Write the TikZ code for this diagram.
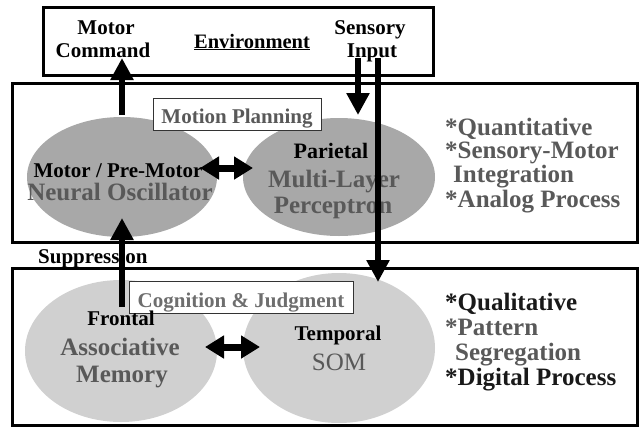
\documentclass[tikz,border=0pt]{standalone}
\usepackage{fontspec}
\setmainfont{Liberation Serif}
\usetikzlibrary{arrows.meta,shapes.geometric}
\definecolor{midgray}{HTML}{A8A8A8}
\definecolor{lightgray}{HTML}{D0D0D0}
\definecolor{txtgray}{HTML}{595959}
\definecolor{txtgrayL}{HTML}{6E6E6E}
\begin{document}
\begin{tikzpicture}[x=1pt,y=-1pt,
  framebox/.style={draw=black, line width=3pt},
  titlebox/.style={draw=black!80, line width=0.8pt, fill=white},
  blob/.style={ellipse, inner sep=0pt},
  lbl/.style={anchor=base, inner sep=0pt, font=\fontsize{21}{21}\selectfont\bfseries},
  biglbl/.style={anchor=base, inner sep=0pt, text=txtgray, font=\fontsize{25}{25}\selectfont\bfseries},
  toplbl/.style={anchor=base, inner sep=0pt, font=\fontsize{21}{21}\selectfont\bfseries},
  listlbl/.style={anchor=base west, inner sep=0pt, font=\fontsize{25}{25}\selectfont\bfseries},
  bigarrow/.style={line width=6pt, -{Triangle[width=22pt,length=22pt]}},
  dblarrow/.style={line width=7pt, {Triangle[width=22pt,length=19pt]}-{Triangle[width=22pt,length=19pt]}}
]
\useasboundingbox (0,0) rectangle (639,426);

% frames
\draw[framebox] (43,7) rectangle (433,75);
\draw[framebox] (12,83) rectangle (637,242);
\draw[framebox] (12,268) rectangle (637,425);

% ellipses
\node[blob, fill=midgray, minimum width=190pt, minimum height=120pt] (osc) at (122,177) {};
\node[blob, fill=midgray, minimum width=192pt, minimum height=118pt] (mlp) at (339,177) {};
\node[blob, fill=lightgray, minimum width=192pt, minimum height=142pt] (am) at (121,351) {};
\node[blob, fill=lightgray, minimum width=192pt, minimum height=150pt] (som) at (339,348) {};

% title boxes
\node[titlebox, minimum width=168pt, minimum height=32pt, inner sep=0pt] (mpbox) at (237,114) {};
\node[lbl, text=txtgray] (mp) at (237,123) {Motion Planning};
\node[titlebox, minimum width=224pt, minimum height=32pt, inner sep=0pt] (cjbox) at (241,297) {};
\node[lbl, text=txtgrayL] (cj) at (241,307) {Cognition \& Judgment};

% top texts
\node[toplbl] (mc1) at (106,34) {Motor};
\node[toplbl] (mc2) at (103,57) {Command};
\node[toplbl, font=\fontsize{20.5}{20.5}\selectfont\bfseries] (env) at (252,48) {\underline{Environment}};
\node[toplbl] (si1) at (370,34) {Sensory};
\node[toplbl] (si2) at (372,57) {Input};

% middle texts
\node[lbl] (osc1) at (118,177) {Motor / Pre-Motor};
\node[biglbl] (osc2) at (120,200) {Neural Oscillator};
\node[lbl, font=\fontsize{22}{22}\selectfont\bfseries] (mlp1) at (331,158) {Parietal};
\node[biglbl] (mlp2) at (334,187) {Multi-Layer};
\node[biglbl] (mlp3) at (333,213) {Perceptron};

\node[listlbl, text=txtgray] (q1) at (445,135) {*Quantitative};
\node[listlbl, text=txtgray] (q2) at (445,158) {*Sensory-Motor};
\node[listlbl, text=txtgray] (q3) at (453,182) {Integration};
\node[listlbl, text=txtgray] (q4) at (445,207) {*Analog Process};

% bottom texts
\node[lbl, anchor=base west] (sup) at (38,263) {Suppression};
\node[lbl] (am1) at (121,325) {Frontal};
\node[biglbl] (am2) at (120,355) {Associative};
\node[biglbl] (am3) at (122,382) {Memory};
\node[lbl] (som1) at (338,340) {Temporal};
\node[anchor=base, inner sep=0pt, text=txtgray, font=\fontsize{25}{25}\selectfont] (som2) at (339,370) {SOM};

\node[listlbl, text=black!90] (l1) at (445,310) {*Qualitative};
\node[listlbl, text=txtgray] (l2) at (445,335) {*Pattern};
\node[listlbl, text=txtgray] (l3) at (455,360) {Segregation};
\node[listlbl, text=black!90] (l4) at (445,385) {*Digital Process};

% arrow end points
\coordinate (mcA) at (122,115);
\coordinate (mcB) at (122,58);
\coordinate (s1A) at (358,58);
\coordinate (s1B) at (358,115);
\coordinate (s2A) at (378,58);
\coordinate (s2B) at (378,282);
\coordinate (spA) at (122,307);
\coordinate (spB) at (122,218);
\coordinate (d1A) at (200,168);
\coordinate (d1B) at (253,168);
\coordinate (d2A) at (205,347);
\coordinate (d2B) at (260,347);

% arrows
\draw[bigarrow] (mcA) -- (mcB);
\draw[bigarrow] (s1A) -- (s1B);
\draw[bigarrow] (s2A) -- (s2B);
\draw[bigarrow] (spA) -- (spB);
\draw[dblarrow] (d1A) -- (d1B);
\draw[dblarrow] (d2A) -- (d2B);
\end{tikzpicture}
\end{document}
